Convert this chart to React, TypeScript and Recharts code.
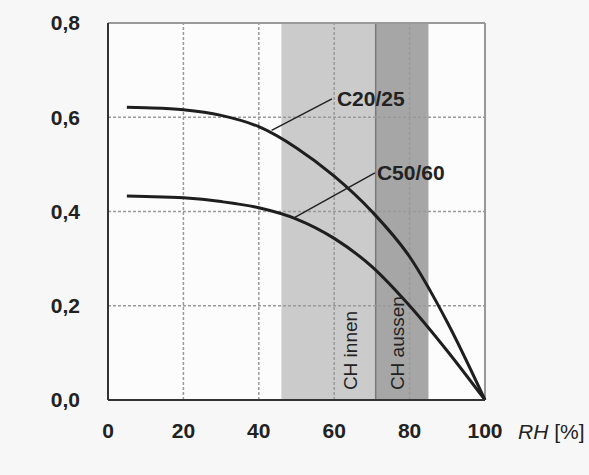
import { ComposedChart, Line, XAxis, YAxis, ReferenceArea, ReferenceLine, ReferenceDot, CartesianGrid } from 'recharts';

// relative humidity RH [%]
const rh = [5, 10, 20, 30, 40, 50, 60, 70, 80, 90, 100];
const c2025 = [0.621, 0.62, 0.616, 0.604, 0.58, 0.535, 0.475, 0.4, 0.304, 0.165, 0];
const c5060 = [0.433, 0.432, 0.429, 0.421, 0.408, 0.384, 0.343, 0.283, 0.2, 0.104, 0];

const xTicks = [0, 20, 40, 60, 80, 100];
const yTicks = [0, 0.2, 0.4, 0.6, 0.8];

// shaded climate ranges
const innen = [46, 71];
const aussen = [71, 85];

const data = rh.map((x, i) => ({ rh: x, c2025: c2025[i], c5060: c5060[i] }));

const fmt = (v: number) => v.toFixed(1).replace('.', ',');

const txt = (label: string, dx: number, dy: number, rotate = false) => (p: any) => (
  <text
    x={p.cx + dx}
    y={p.cy + dy}
    fill="#222"
    fontSize={rotate ? 19 : 21}
    fontWeight={rotate ? 400 : 700}
    fontFamily="Liberation Sans, Arial, sans-serif"
    dominantBaseline="central"
    textAnchor="start"
    transform={rotate ? `rotate(-90 ${p.cx + dx} ${p.cy + dy})` : undefined}
  >
    {label}
  </text>
);

const axisLabel = (p: any) => (
  <text x={p.cx + 33} y={p.cy + 31} fill="#222" fontSize={21} fontFamily="Liberation Sans, Arial, sans-serif" dominantBaseline="central">
    <tspan fontStyle="italic">RH</tspan>
    <tspan> [%]</tspan>
  </text>
);

const tickStyle = { fill: '#222', fontSize: 21, fontWeight: 700, fontFamily: 'Liberation Sans, Arial, sans-serif' };

export default function App() {
  return (
    <div style={{ width: 589, height: 475, background: '#f7f7f7' }}>
      <style>{`body{margin:0;background:#f7f7f7}`}</style>
      <ComposedChart width={589} height={475} data={data} margin={{ top: 23, right: 104, left: 48, bottom: 35 }}>
        <CartesianGrid horizontal={false} vertical={false} fill="#fcfcfc" />
        <XAxis
          dataKey="rh"
          type="number"
          domain={[0, 100]}
          ticks={xTicks}
          height={40}
          tickLine={false}
          tickMargin={17}
          axisLine={{ stroke: '#333', strokeWidth: 2 }}
          tick={tickStyle}
        />
        <YAxis
          type="number"
          domain={[0, 0.8]}
          ticks={yTicks}
          width={60}
          tickLine={false}
          tickMargin={22}
          tickFormatter={fmt}
          axisLine={{ stroke: '#333', strokeWidth: 2 }}
          tick={tickStyle}
        />
        <ReferenceArea x1={innen[0]} x2={innen[1]} y1={0} y2={0.8} fill="#cbcbcb" fillOpacity={1} stroke="none" />
        <ReferenceArea x1={aussen[0]} x2={aussen[1]} y1={0} y2={0.8} fill="#a6a6a6" fillOpacity={1} stroke="none" />
        <ReferenceLine x={aussen[0]} stroke="#7a7a7a" strokeWidth={1.5} />
        {[20, 40, 60, 80].map((x) => (
          <ReferenceLine key={'x' + x} x={x} stroke="#999" strokeDasharray="3 2" strokeWidth={1.5} />
        ))}
        {[0.2, 0.4, 0.6].map((y) => (
          <ReferenceLine key={'y' + y} y={y} stroke="#999" strokeDasharray="3 2" strokeWidth={1.5} />
        ))}
        <ReferenceLine y={0.8} stroke="#999" strokeWidth={2} />
        <ReferenceLine x={100} stroke="#999" strokeWidth={2} />
        <Line dataKey="c2025" type="monotone" stroke="#1e1e1e" strokeWidth={3} dot={false} isAnimationActive={false} />
        <Line dataKey="c5060" type="monotone" stroke="#1e1e1e" strokeWidth={3} dot={false} isAnimationActive={false} />
        <ReferenceLine segment={[{ x: 43.4, y: 0.572 }, { x: 59.4, y: 0.639 }]} stroke="#222" strokeWidth={1.5} />
        <ReferenceLine segment={[{ x: 49.2, y: 0.386 }, { x: 70.8, y: 0.482 }]} stroke="#222" strokeWidth={1.5} />
        <ReferenceDot x={59.4} y={0.639} r={0} shape={txt('C20/25', 5, 0)} />
        <ReferenceDot x={70.8} y={0.482} r={0} shape={txt('C50/60', 2, 0)} />
        <ReferenceDot x={64.2} y={0.021} r={0} shape={txt('CH innen', 0, 0, true)} />
        <ReferenceDot x={76.9} y={0.021} r={0} shape={txt('CH aussen', 0, 0, true)} />
        <ReferenceDot x={100} y={0} r={0} shape={axisLabel} />
      </ComposedChart>
    </div>
  );
}
